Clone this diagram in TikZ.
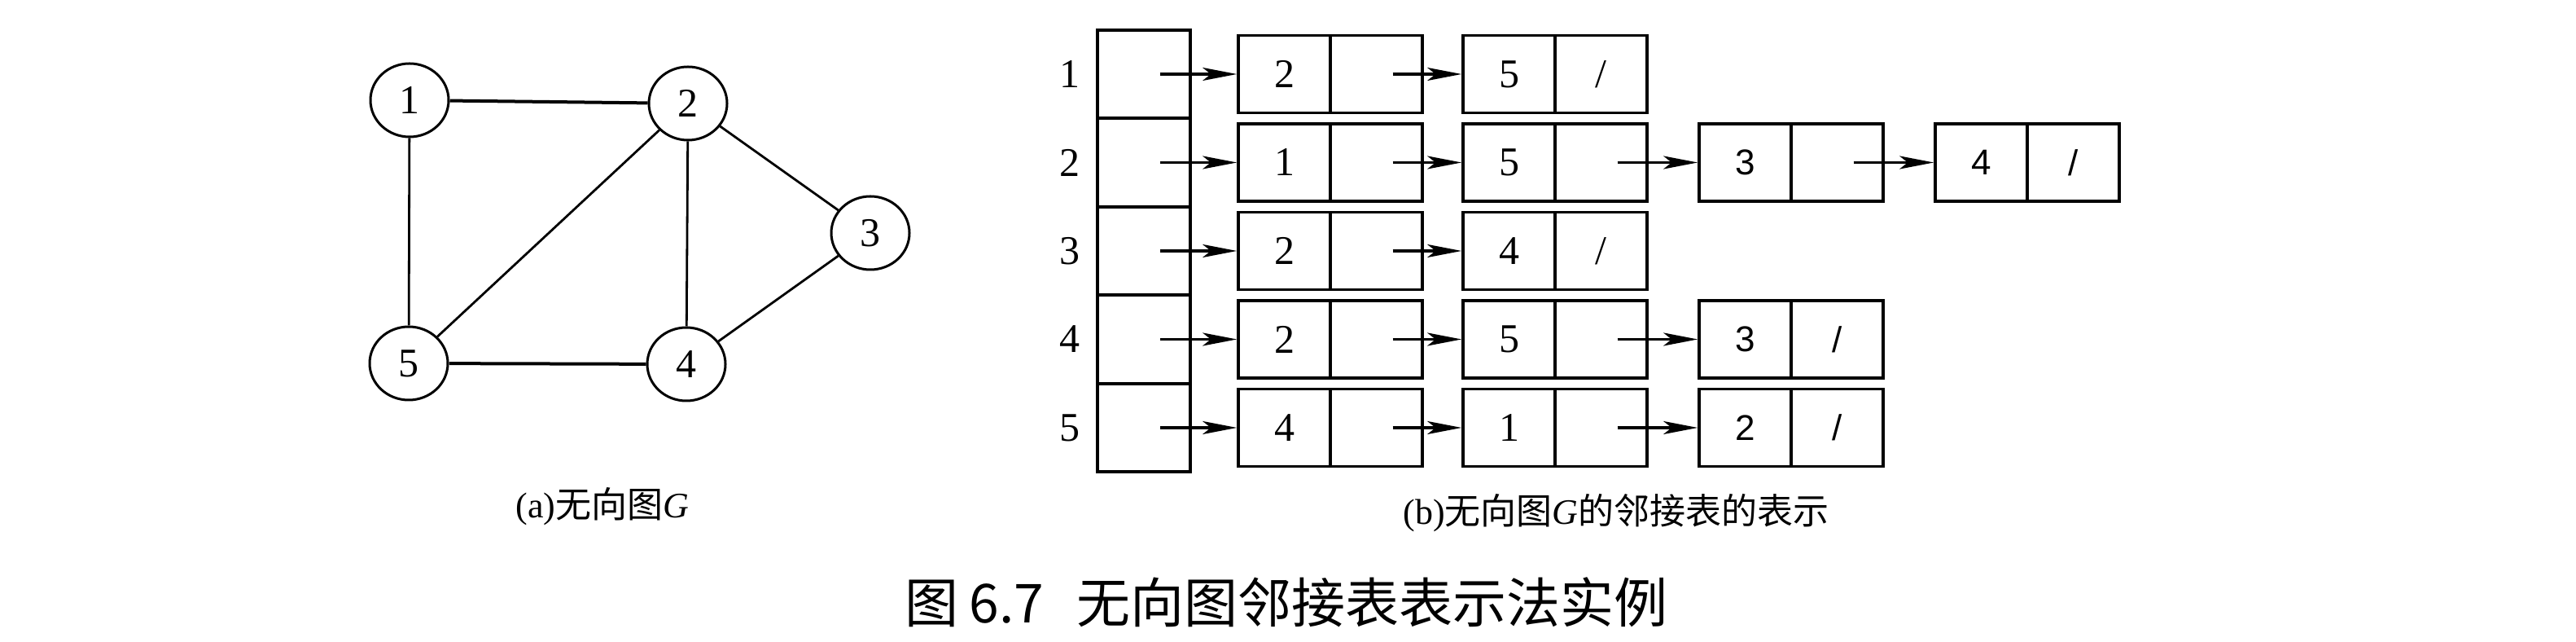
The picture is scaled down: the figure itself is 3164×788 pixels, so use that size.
\documentclass[tikz,border=0pt]{standalone}
\usepackage{fontspec}
\setmainfont{Liberation Serif}
\newfontfamily\cjk{Noto Sans CJK SC}
\newfontfamily\sansdig{Liberation Sans}
\usetikzlibrary{arrows.meta,shapes.geometric}
\tikzset{
  gnode/.style={ellipse, draw, line width=0.75pt, minimum width=24pt, minimum height=22.5pt, inner sep=0pt, font=\rmfamily\fontsize{12.5}{13}\selectfont},
  gedge/.style={line width=0.7pt},
  hedge/.style={line width=1pt},
  hcell/.style={rectangle, draw, line width=0.9pt, minimum width=28.5pt, minimum height=27.125pt, inner sep=0pt},
  dcell/.style={rectangle, draw, line width=0.9pt, minimum width=28.25pt, minimum height=23.75pt, inner sep=0pt, font=\rmfamily\fontsize{12.5}{13}\selectfont},
  scell/.style={dcell, font=\sansdig\fontsize{11}{13}\selectfont},
  lbl/.style={font=\rmfamily\fontsize{12.5}{13}\selectfont},
  arr/.style={line width=0.85pt, -{Stealth[length=10.5pt, width=4pt, inset=2.5pt]}},
  capsub/.style={font=\fontsize{11}{13}\selectfont},
}
\begin{document}
\begin{tikzpicture}[x=0.25pt,y=-0.25pt]
\useasboundingbox (0,0) rectangle (3164,788);

% ---------- graph (a) ----------
\node[gnode] (g1) at (503,123) {1};
\node[gnode] (g2) at (845,127) {2};
\node[gnode] (g3) at (1069,286) {3};
\node[gnode] (g4) at (843,447) {4};
\node[gnode] (g5) at (502,446) {5};
\draw[hedge] (g1) -- (g2);
\draw[gedge] (g1) -- (g5);
\draw[gedge] (g2) -- (g5);
\draw[gedge] (g2) -- (g4);
\draw[gedge] (g2) -- (g3);
\draw[gedge] (g3) -- (g4);
\draw[hedge] (g5) -- (g4);

% ---------- adjacency list (b) ----------
\node[lbl] (l1) at (1314,91) {1};
\node[lbl] (l2) at (1314,199.5) {2};
\node[lbl] (l3) at (1314,308) {3};
\node[lbl] (l4) at (1314,416.5) {4};
\node[lbl] (l5) at (1314,525) {5};

\node[hcell] (h1) at (1405,91) {};
\node[hcell] (h2) at (1405,199.5) {};
\node[hcell] (h3) at (1405,308) {};
\node[hcell] (h4) at (1405,416.5) {};
\node[hcell] (h5) at (1405,525) {};

% row 1
\node[dcell] (a1d) at (1577.5,91) {2};
\node[dcell] (a1p) at (1690.5,91) {};
\node[dcell] (a2d) at (1853.5,91) {5};
\node[dcell] (a2p) at (1966.5,91) {/};
\draw[arr] ([xshift=5pt]h1.center) -- (a1d.west);
\draw[arr] ([xshift=5pt]a1p.center) -- (a2d.west);

% row 2
\node[dcell] (b1d) at (1577.5,199.5) {1};
\node[dcell] (b1p) at (1690.5,199.5) {};
\node[dcell] (b2d) at (1853.5,199.5) {5};
\node[dcell] (b2p) at (1966.5,199.5) {};
\node[scell] (b3d) at (2143.5,199.5) {3};
\node[scell] (b3p) at (2256.5,199.5) {};
\node[scell] (b4d) at (2433.5,199.5) {4};
\node[scell] (b4p) at (2546.5,199.5) {/};
\draw[arr] ([xshift=5pt]h2.center) -- (b1d.west);
\draw[arr] ([xshift=5pt]b1p.center) -- (b2d.west);
\draw[arr] ([xshift=5pt]b2p.center) -- (b3d.west);
\draw[arr] ([xshift=5pt]b3p.center) -- (b4d.west);

% row 3
\node[dcell] (c1d) at (1577.5,308) {2};
\node[dcell] (c1p) at (1690.5,308) {};
\node[dcell] (c2d) at (1853.5,308) {4};
\node[dcell] (c2p) at (1966.5,308) {/};
\draw[arr] ([xshift=5pt]h3.center) -- (c1d.west);
\draw[arr] ([xshift=5pt]c1p.center) -- (c2d.west);

% row 4
\node[dcell] (d1d) at (1577.5,416.5) {2};
\node[dcell] (d1p) at (1690.5,416.5) {};
\node[dcell] (d2d) at (1853.5,416.5) {5};
\node[dcell] (d2p) at (1966.5,416.5) {};
\node[scell] (d3d) at (2143.5,416.5) {3};
\node[scell] (d3p) at (2256.5,416.5) {/};
\draw[arr] ([xshift=5pt]h4.center) -- (d1d.west);
\draw[arr] ([xshift=5pt]d1p.center) -- (d2d.west);
\draw[arr] ([xshift=5pt]d2p.center) -- (d3d.west);

% row 5
\node[dcell] (e1d) at (1577.5,525) {4};
\node[dcell] (e1p) at (1690.5,525) {};
\node[dcell] (e2d) at (1853.5,525) {1};
\node[dcell] (e2p) at (1966.5,525) {};
\node[scell] (e3d) at (2143.5,525) {2};
\node[scell] (e3p) at (2256.5,525) {/};
\draw[arr] ([xshift=5pt]h5.center) -- (e1d.west);
\draw[arr] ([xshift=5pt]e1p.center) -- (e2d.west);
\draw[arr] ([xshift=5pt]e2p.center) -- (e3d.west);

% ---------- captions ----------
\node[capsub] (capa) at (740,622) {(a){\cjk 无向图}\textit{G}};
\node[capsub] (capb) at (1985,630) {(b){\cjk 无向图}\textit{G}{\cjk 的邻接表的表示}};
\node[font=\cjk\fontsize{16.5}{20}\selectfont] (capm) at (1580,739) {图\hspace{0.2em}6.7\hspace{0.6em}无向图邻接表表示法实例};
\end{tikzpicture}
\end{document}
